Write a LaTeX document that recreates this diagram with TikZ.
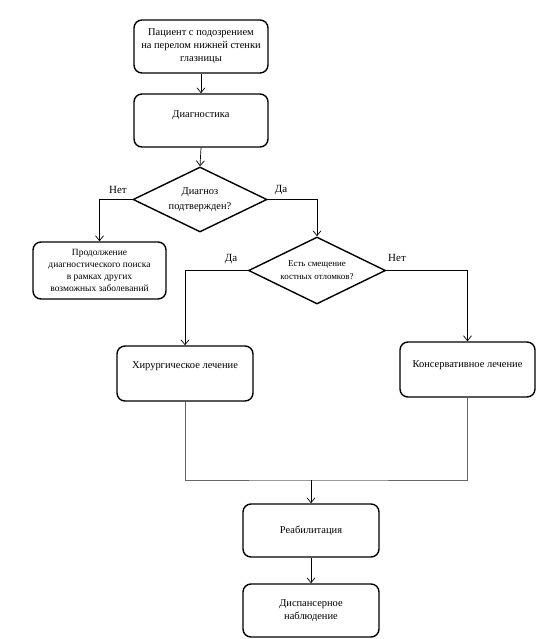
\documentclass[tikz,border=0pt]{standalone}
\usepackage{fontspec}
\setmainfont{Liberation Serif}
\usetikzlibrary{shapes.geometric,arrows.meta}

\tikzset{
  box/.style={draw,line width=1.4bp,rounded corners=8bp,align=center,
    inner sep=0pt,font=\fontsize{10.5}{13}\selectfont},
  decision/.style={draw,diamond,line width=1.4bp,aspect=2,inner sep=0pt,
    align=center,font=\fontsize{10.5}{14.5}\selectfont},
  arr/.style={line width=0.7bp,-{Straight Barb[length=5bp,width=8bp]}},
  link/.style={line width=0.7bp,draw=black!60}
}

\begin{document}
\begin{tikzpicture}[x=1bp,y=-1bp]
 \useasboundingbox (0,0) rectangle (546,639);
 \node[box,minimum width=134bp,minimum height=53bp] at (201,46.5) (patient)
   {Пациент с подозрением\\на перелом нижней стенки\\глазницы};
 \node[box,minimum width=134bp,minimum height=53bp,text depth=12bp] at (201,120.5) (diag)
   {Диагностика};
 \node[decision,minimum width=134bp,minimum height=65bp] at (200,199.5) (confirmed)
   {Диагноз\\подтвержден?};
 \node[box,minimum width=133bp,minimum height=57bp,font=\fontsize{9.5}{12}\selectfont] at (99.5,270.5) (search)
   {Продолжение\\диагностического поиска\\в рамках других\\возможных заболеваний};
 \node[decision,minimum width=137bp,minimum height=67bp,font=\fontsize{9}{13}\selectfont] at (317,270.5) (shift)
   {Есть смещение\\костных отломков?};
 \node[box,minimum width=136bp,minimum height=55bp,text depth=16bp] at (185,373.5) (surgery)
   {Хирургическое лечение};
 \node[box,minimum width=135bp,minimum height=55bp,text depth=11bp] at (467.5,369.5) (conserv)
   {Консервативное лечение};
 \node[box,minimum width=136bp,minimum height=53bp,text depth=2bp] at (311,530.5) (rehab)
   {Реабилитация};
 \node[box,minimum width=136bp,minimum height=53bp] at (311,610.5) (follow)
   {Диспансерное\\наблюдение};
 \coordinate (join) at (311,480);

 \node[font=\fontsize{11}{13}\selectfont] at (118,190) (no1) {Нет};
 \node[font=\fontsize{11}{13}\selectfont] at (281,190) (yes1) {Да};
 \node[font=\fontsize{11}{13}\selectfont] at (231,259) (yes2) {Да};
 \node[font=\fontsize{11}{13}\selectfont] at (397,258) (no2) {Нет};

 \draw[arr] (patient.south) -- (diag.north);
 \draw[arr] (diag.south) -- (confirmed.north);
 \draw[arr] (confirmed.west) -| (search.north);
 \draw[arr] (confirmed.east) -| (shift.north);
 \draw[arr] (shift.west) -| (surgery.north);
 \draw[arr] (shift.east) -| (conserv.north);
 \draw[link] (surgery.south) |- (join) -| (conserv.south);
 \draw[arr] (join) -- (rehab.north);
 \draw[arr] (rehab.south) -- (follow.north);
\end{tikzpicture}
\end{document}
